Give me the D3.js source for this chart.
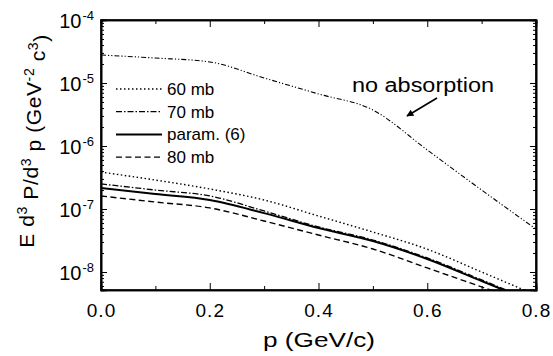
<!DOCTYPE html>
<html>
<head>
<meta charset="utf-8">
<script src="https://cdn.jsdelivr.net/npm/d3@7"></script>
<style>
  body { margin: 0; background: #fff; }
  svg { font-family: "Liberation Sans", Arial, sans-serif; }
</style>
</head>
<body>
<svg id="chart" width="553" height="356"></svg>
<script>
// momentum values (GeV/c)
const pValues = [0.0, 0.1, 0.2, 0.3, 0.4, 0.5, 0.6, 0.7, 0.8];

// series values
const noAbsorption = [2.78e-5, 2.49e-5, 2.16e-5, 1.20e-5, 6.7e-6, 3.73e-6, 8.65e-7, 2.0e-7, 4.8e-8];
const mb60 = [3.86e-7, 2.88e-7, 2.08e-7, 1.39e-7, 7.74e-8, 4.31e-8, 2.30e-8, 1.0e-8, 4.3e-9];
const mb70 = [2.50e-7, 2.00e-7, 1.61e-7, 9.3e-8, 5.18e-8, 3.22e-8, 1.67e-8, 7.5e-9, 3.3e-9];
const param6 = [2.16e-7, 1.73e-7, 1.39e-7, 8.6e-8, 4.99e-8, 3.10e-8, 1.61e-8, 7.2e-9, 3.2e-9];
const mb80 = [1.61e-7, 1.29e-7, 1.04e-7, 6.45e-8, 3.86e-8, 2.32e-8, 1.16e-8, 5.8e-9, 2.9e-9];

const legendLabels = ["60 mb", "70 mb", "param. (6)", "80 mb"];
const xTicks = [0.0, 0.2, 0.4, 0.6, 0.8];
const xMinorTicks = [0.1, 0.3, 0.5, 0.7];
const yExponents = [-4, -5, -6, -7, -8];

const margin = { top: 20, right: 17, bottom: 66, left: 101 };
const width = 553 - margin.left - margin.right;
const height = 356 - margin.top - margin.bottom;

const svg = d3.select("#chart");
const g = svg.append("g").attr("transform", `translate(${margin.left},${margin.top})`);

const x = d3.scaleLinear().domain([0, 0.8]).range([0, width]);
const y = d3.scaleLog().domain([5.18e-9, 1e-4]).range([height, 0]);

// clip for curves
svg.append("defs").append("clipPath").attr("id", "clip")
  .append("rect").attr("width", width).attr("height", height);

// y minor ticks (2..9 per decade)
const yMinor = [];
for (let e = -9; e < -4; e++) {
  for (let k = 2; k <= 9; k++) {
    const v = k * Math.pow(10, e);
    if (v >= y.domain()[0] && v <= y.domain()[1]) yMinor.push(v);
  }
}
const yMajor = yExponents.map(e => Math.pow(10, e));

// axes (ticks drawn inward)
g.append("g").attr("class", "axis")
  .attr("transform", `translate(0,${height})`)
  .call(d3.axisBottom(x).tickValues(xTicks).tickSize(-7).tickPadding(14).tickFormat(d3.format(".1f")));
g.append("g").attr("class", "axis")
  .attr("transform", `translate(0,${height})`)
  .call(d3.axisBottom(x).tickValues(xMinorTicks).tickSize(-4).tickFormat(""));
g.append("g").attr("class", "axis")
  .call(d3.axisTop(x).tickValues(xTicks).tickSize(-7).tickFormat(""));
g.append("g").attr("class", "axis")
  .call(d3.axisTop(x).tickValues(xMinorTicks).tickSize(-4).tickFormat(""));

const yLeft = g.append("g").attr("class", "axis")
  .call(d3.axisLeft(y).tickValues(yMajor).tickSize(-6).tickPadding(12).tickFormat(""));
g.append("g").attr("class", "axis")
  .call(d3.axisLeft(y).tickValues(yMinor).tickSize(-3).tickFormat(""));
g.append("g").attr("class", "axis")
  .attr("transform", `translate(${width},0)`)
  .call(d3.axisRight(y).tickValues(yMajor).tickSize(-6).tickFormat(""));
g.append("g").attr("class", "axis")
  .attr("transform", `translate(${width},0)`)
  .call(d3.axisRight(y).tickValues(yMinor).tickSize(-3).tickFormat(""));

// y tick labels as 10 with superscript exponent
yLeft.selectAll(".tick").each(function(d) {
  const t = d3.select(this).select("text")
    .attr("x", -7).attr("dy", "0.38em")
    .style("font-size", "20px").attr("fill", "#000")
    .attr("text-anchor", "end");
  t.append("tspan").text("10");
  t.append("tspan").text(String(Math.round(Math.log10(d))))
    .attr("dx", 1).attr("dy", "-0.6em").style("font-size", "13px");
});

svg.selectAll(".axis path").attr("stroke", "#000").attr("stroke-width", 1.6);
svg.selectAll(".axis line").attr("stroke", "#000").attr("stroke-width", 1);
g.selectAll(".axis text").filter(function() { return this.textContent.indexOf(".") >= 0; })
  .style("font-size", "19px").attr("fill", "#000").attr("letter-spacing", "1px");

// frame
g.append("rect").attr("width", width).attr("height", height)
  .attr("fill", "none").attr("stroke", "#000").attr("stroke-width", 1.6);

// curves
const series = [
  { values: noAbsorption, dash: "5,2,1.2,2,1.2,2", w: 1.1 },
  { values: mb60, dash: "1.5,2.5", w: 1.4 },
  { values: mb70, dash: "6,2,1.5,2", w: 1.3 },
  { values: param6, dash: null, w: 2 },
  { values: mb80, dash: "6,3.5", w: 1.4 }
];

const line = d3.line()
  .x(d => x(d[0]))
  .y(d => y(d[1]))
  .curve(d3.curveMonotoneX);

const curves = g.append("g").attr("clip-path", "url(#clip)");
series.forEach(s => {
  curves.append("path")
    .datum(pValues.map((p, i) => [p, s.values[i]]))
    .attr("d", line)
    .attr("fill", "none")
    .attr("stroke", "#000")
    .attr("stroke-width", s.w)
    .attr("stroke-dasharray", s.dash);
});

// legend
const legend = svg.append("g").attr("transform", "translate(116,89)");
legendLabels.forEach((label, i) => {
  const s = series[i + 1];
  const row = legend.append("g").attr("transform", `translate(0,${i * 22.7})`);
  row.append("line").attr("x1", 0).attr("x2", 46)
    .attr("stroke", "#000").attr("stroke-width", s.w)
    .attr("stroke-dasharray", s.dash);
  row.append("text").attr("x", 51).attr("dy", "0.35em")
    .style("font-size", "17px").text(label);
});

// annotation
svg.append("text").attr("x", 352).attr("y", 92)
  .attr("textLength", 142).attr("lengthAdjust", "spacingAndGlyphs")
  .style("font-size", "20px").text("no absorption");
svg.append("defs").append("marker").attr("id", "arrow")
  .attr("viewBox", "0 0 10 10").attr("refX", 9).attr("refY", 5)
  .attr("markerWidth", 9).attr("markerHeight", 7).attr("orient", "auto")
  .attr("markerUnits", "userSpaceOnUse")
  .append("path").attr("d", "M0,0L10,5L0,10z").attr("fill", "#000");
svg.append("line").attr("x1", 437).attr("y1", 98).attr("x2", 407).attr("y2", 116)
  .attr("stroke", "#000").attr("stroke-width", 1.6).attr("marker-end", "url(#arrow)");

// axis titles
svg.append("text").attr("x", 319).attr("y", 347)
  .attr("text-anchor", "middle")
  .attr("textLength", 112).attr("lengthAdjust", "spacingAndGlyphs")
  .style("font-size", "21px").text("p (GeV/c)");

const yTitle = svg.append("text")
  .attr("transform", "translate(34,141) rotate(-90)")
  .attr("text-anchor", "middle")
  .attr("letter-spacing", "0.6px")
  .style("font-size", "21px");
yTitle.append("tspan").text("E d");
yTitle.append("tspan").text("3").attr("dy", "-0.5em").style("font-size", "14px");
yTitle.append("tspan").text(" P/d").attr("dy", "0.5em");
yTitle.append("tspan").text("3").attr("dy", "-0.5em").style("font-size", "14px");
yTitle.append("tspan").text(" p (GeV").attr("dy", "0.5em");
yTitle.append("tspan").text("-2").attr("dy", "-0.5em").style("font-size", "14px");
yTitle.append("tspan").text("  c").attr("dy", "0.5em");
yTitle.append("tspan").text("3").attr("dy", "-0.5em").style("font-size", "14px");
yTitle.append("tspan").text(")").attr("dy", "0.5em");
</script>
</body>
</html>
